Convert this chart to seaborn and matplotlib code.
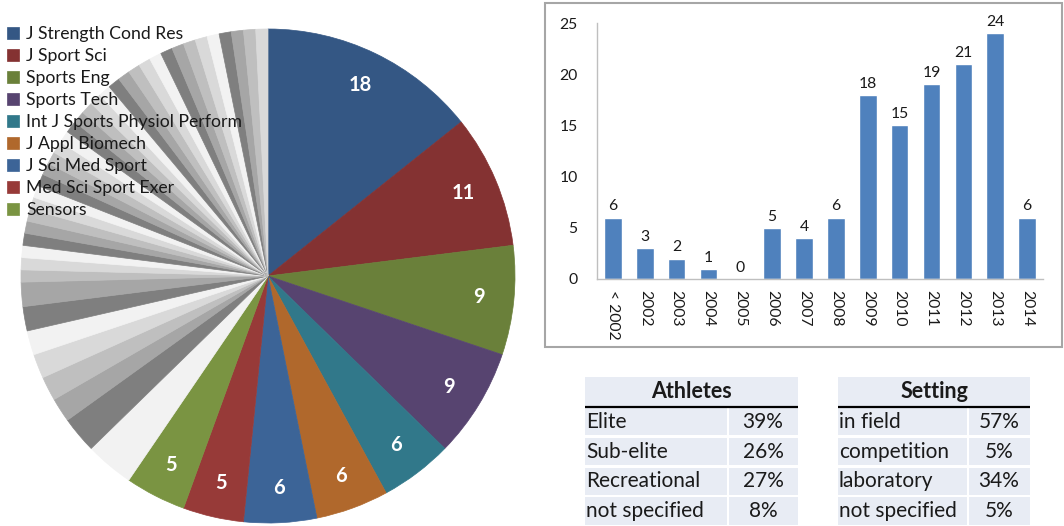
import matplotlib
matplotlib.use('Agg')
import matplotlib.pyplot as plt
from matplotlib.patches import Rectangle
import numpy as np
import pandas as pd
import seaborn as sns

# journals (pie)
journals = ['J Strength Cond Res', 'J Sport Sci', 'Sports Eng', 'Sports Tech',
            'Int J Sports Physiol Perform', 'J Appl Biomech', 'J Sci Med Sport',
            'Med Sci Sport Exer', 'Sensors']
journal_counts = [18, 11, 9, 9, 6, 6, 6, 5, 5]
journal_colors = ['#345784', '#843232', '#6a803a', '#574470', '#31788a',
                  '#b0682c', '#3c6497', '#973a38', '#7a9442']
other_counts = [4, 3, 2, 2, 2, 2, 2, 2,
                1, 1, 1, 1, 1, 1, 1, 1, 1, 1, 1, 1, 1, 1, 1, 1,
                1, 1, 1, 1, 1, 1, 1, 1, 1, 1, 1, 1, 1, 1, 1, 1]
gray_cycle = ['#f2f2f2', '#7f7f7f', '#a6a6a6', '#bfbfbf', '#d9d9d9']

# papers per year (bars)
years = ['< 2002', '2002', '2003', '2004', '2005', '2006', '2007', '2008',
         '2009', '2010', '2011', '2012', '2013', '2014']
papers = [6, 3, 2, 1, 0, 5, 4, 6, 18, 15, 19, 21, 24, 6]

# tables
athlete_levels = ['Elite', 'Sub-elite', 'Recreational', 'not specified']
athlete_pct = ['39%', '26%', '27%', '8%']
settings = ['in field', 'competition', 'laboratory', 'not specified']
setting_pct = ['57%', '5%', '34%', '5%']

sns.set_theme(style='white')
plt.rcParams['font.family'] = ['Lato', 'DejaVu Sans']

W, H = 1064, 526
fig = plt.figure(figsize=(W / 100, H / 100), dpi=100)


def px_axes(x0, y0, x1, y1):
    return fig.add_axes([x0 / W, 1 - y1 / H, (x1 - x0) / W, (y1 - y0) / H])


# ---- pie ----
cx, cy, r = 268, 276, 247
ax_pie = px_axes(cx - r, cy - r, cx + r, cy + r)
pie_vals = journal_counts + other_counts
pie_cols = journal_colors + [gray_cycle[i % 5] for i in range(len(other_counts))]
wedges, _ = ax_pie.pie(pie_vals, colors=pie_cols, startangle=90, counterclock=False,
                       wedgeprops=dict(linewidth=0.5))
for w in wedges:
    w.set_edgecolor(w.get_facecolor())
ax_pie.set_xlim(-1, 1)
ax_pie.set_ylim(-1, 1)
ax_pie.set_aspect('auto')

for w, n in zip(wedges[:len(journal_counts)], journal_counts):
    mid = np.deg2rad((w.theta1 + w.theta2) / 2)
    ax_pie.text(0.86 * np.cos(mid), 0.86 * np.sin(mid), str(n), color='white',
                fontsize=14.5, fontweight='bold', ha='center', va='center')

ax_pie.legend(wedges[:len(journals)], journals, loc='upper left',
              bbox_to_anchor=(7 / W, 1 - 26 / H), bbox_transform=fig.transFigure,
              frameon=False, fontsize=12.7, handlelength=0.7, handleheight=0.7,
              handletextpad=0.4, labelspacing=0.34, borderpad=0, borderaxespad=0,
              labelcolor='#1a1a1a')

# ---- bar chart ----
fig.add_artist(Rectangle((545 / W, 1 - 347 / H), (1062 - 545) / W, 344 / H,
                         transform=fig.transFigure, fill=False,
                         edgecolor='#a6a6a6', lw=1.5))
ax_bar = px_axes(597, 23, 1043, 279)
df = pd.DataFrame({'year': years, 'papers': papers})
sns.barplot(data=df, x='year', y='papers', color='#4f81bd', saturation=1,
            width=0.55, ax=ax_bar)
ax_bar.bar_label(ax_bar.containers[0], padding=3, fontsize=11.3, color='#1a1a1a')
ax_bar.set_xlim(-0.5, len(years) - 0.5)
ax_bar.set_ylim(0, 25)
ax_bar.set_yticks([0, 5, 10, 15, 20, 25])
ax_bar.set_xlabel('')
ax_bar.set_ylabel('')
ax_bar.tick_params(axis='y', length=0, pad=14, labelsize=11.3, labelcolor='#1a1a1a')
ax_bar.tick_params(axis='x', length=0, pad=8, labelsize=11.3, labelcolor='#1a1a1a',
                   labelrotation=-90)
for s in ['top', 'right']:
    ax_bar.spines[s].set_visible(False)
for s in ['left', 'bottom']:
    ax_bar.spines[s].set_color('#bfbfbf')
    ax_bar.spines[s].set_linewidth(1)


# ---- tables ----
def draw_table(x0, xsplit, x1, title, labels, values):
    ax = px_axes(x0, 377, x1, 526)
    ax.set_xlim(x0, x1)
    ax.set_ylim(len(labels) + 1, 0)
    ax.axis('off')
    bg = '#e8ecf4'
    gap = 1
    ax.add_patch(Rectangle((x0, 0), x1 - x0, 1, facecolor=bg, edgecolor='none'))
    ax.text((x0 + x1) / 2, 0.5, title, ha='center', va='center', fontsize=15.5,
            fontweight='bold', color='#1a1a1a')
    ax.plot([x0, x1], [1, 1], color='black', lw=1.6)
    for i, (lab, val) in enumerate(zip(labels, values)):
        y = i + 1
        ax.add_patch(Rectangle((x0, y + 0.04), xsplit - x0 - gap, 0.92,
                               facecolor=bg, edgecolor='none'))
        ax.add_patch(Rectangle((xsplit + gap, y + 0.04), x1 - xsplit - gap, 0.92,
                               facecolor=bg, edgecolor='none'))
        ax.text(x0 + 1, y + 0.5, lab, ha='left', va='center', fontsize=15,
                color='#1a1a1a')
        ax.text((xsplit + x1) / 2, y + 0.5, val, ha='center', va='center',
                fontsize=15, color='#1a1a1a')


draw_table(585, 728, 798, 'Athletes', athlete_levels, athlete_pct)
draw_table(838, 968, 1030, 'Setting', settings, setting_pct)

fig.savefig('out.png', dpi=100)
